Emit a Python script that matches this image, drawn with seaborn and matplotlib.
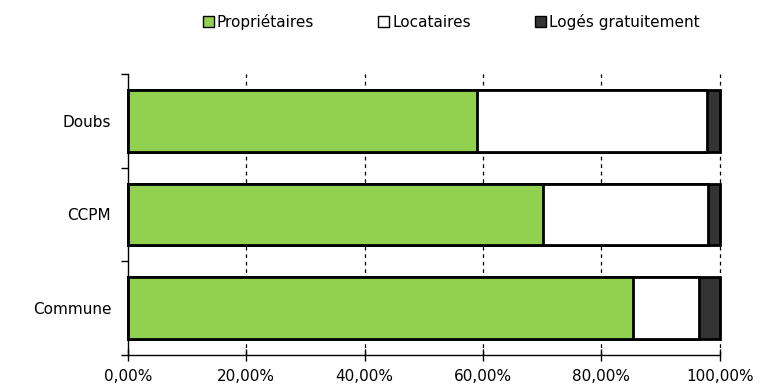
import numpy as np
import pandas as pd
import matplotlib
matplotlib.use("Agg")
import matplotlib.pyplot as plt
from matplotlib.patches import Patch
from matplotlib.ticker import FixedLocator
import seaborn as sns

# données (parts en %)
zones = ["Doubs", "CCPM", "Commune"]
proprietaires = [58.9, 70.2, 85.3]
locataires = [38.9, 27.8, 11.2]
loges_gratuit = [2.2, 2.0, 3.5]

series = ["Propriétaires", "Locataires", "Logés gratuitement"]
couleurs = ["#92D050", "#FFFFFF", "#333333"]

sns.set_style("white")
plt.rcParams["font.family"] = ["DejaVu Sans"]
plt.rcParams["text.color"] = "black"
plt.rcParams["xtick.color"] = "black"
plt.rcParams["ytick.color"] = "black"

df = pd.DataFrame({
    "zone": zones,
    "Propriétaires": proprietaires,
    "Locataires": locataires,
    "Logés gratuitement": loges_gratuit,
})
# cumuls pour empiler
cum = df[series].cumsum(axis=1)

fig = plt.figure(figsize=(7.61, 3.91), dpi=100)
ax = fig.add_axes([0.168, 0.092, 0.778, 0.719])

# grille verticale en pointillés derrière les barres
for x in [20, 40, 60, 80, 100]:
    ax.axvline(x, color="black", linestyle=(0, (3, 3)), linewidth=0.9,
               zorder=0, clip_on=False)

for s, c in reversed(list(zip(series, couleurs))):
    sns.barplot(x=cum[s], y=df["zone"], orient="h", color=c, ax=ax,
                width=0.66, edgecolor="black", linewidth=2, saturation=1,
                zorder=2)
for p in ax.patches:
    p.set_clip_on(False)

ax.set_xlim(0, 100)
ax.set_ylim(2.5, -0.5)
ax.set_xticks([0, 20, 40, 60, 80, 100])
ax.set_xticklabels(["0,00%", "20,00%", "40,00%", "60,00%", "80,00%", "100,00%"],
                   fontsize=11)
ax.set_yticks([0, 1, 2])
ax.set_yticklabels(zones, fontsize=11)
ax.tick_params(axis="y", which="major", left=True, length=0, pad=12)
ax.yaxis.set_minor_locator(FixedLocator([-0.5, 0.5, 1.5, 2.5]))
ax.tick_params(axis="y", which="minor", left=True, length=5, direction="out", width=1)
ax.tick_params(axis="x", which="major", bottom=True, length=8, direction="inout",
               width=1, pad=6)
ax.set_xlabel("")
ax.set_ylabel("")

for sp in ["top", "right"]:
    ax.spines[sp].set_visible(False)
for sp in ["left", "bottom"]:
    ax.spines[sp].set_color("black")
    ax.spines[sp].set_linewidth(1)

handles = [Patch(facecolor=c, edgecolor="black", linewidth=1) for c in couleurs]
fig.legend(handles, series, loc="center", bbox_to_anchor=(0.593, 0.945), ncol=3,
           frameon=False, fontsize=11, handlelength=0.7, handleheight=0.7,
           handletextpad=0.2, columnspacing=4.2)

fig.savefig("out.png", dpi=100)
